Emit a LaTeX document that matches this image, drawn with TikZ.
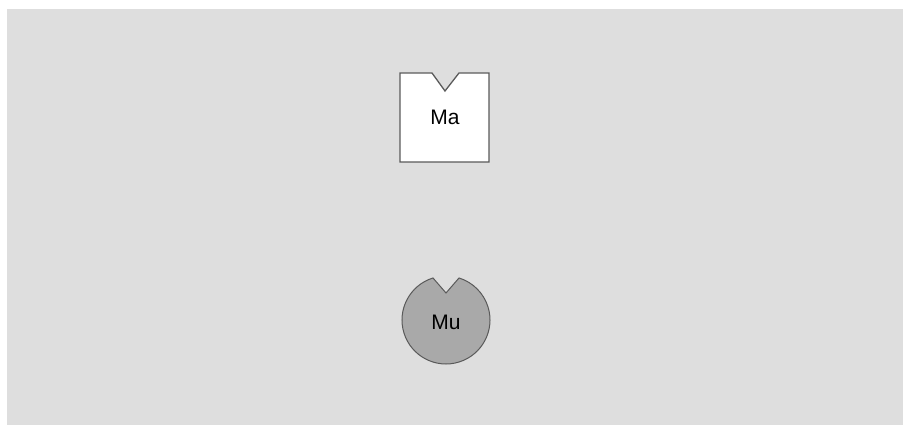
\documentclass[tikz,border=0pt]{standalone}
\usepackage{fontspec}
\setmainfont{Liberation Sans}
\usepackage{xcolor}
\usetikzlibrary{positioning}

\definecolor{pagegray}{HTML}{DEDEDE}
\definecolor{mugray}{HTML}{A9A9A9}
\definecolor{edgegray}{HTML}{5A5A5A}

\begin{document}
\begin{tikzpicture}[x=1pt, y=1pt,
    label text/.style={font=\fontsize{21}{25}\selectfont, inner sep=0pt},
    ma shape/.style={fill=white, draw=edgegray, line width=1.3pt, line join=miter},
    mu shape/.style={fill=mugray, draw=edgegray, line width=1pt}]
    \useasboundingbox (0,0) rectangle (903,425);
    \fill[pagegray] (7,0) rectangle (903,416);

    % notched square
    \draw[ma shape] (400,263) -- (489,263) -- (489,352) -- (459,352)
        -- (445,334) -- (432,352) -- (400,352) -- cycle;
    \node[label text] (ma) at (445,308) {Ma};

    % notched circle
    \coordinate (muc) at (446,105);
    \draw[mu shape] (muc) ++(107.2:44) arc[start angle=107.2, end angle=432.8, radius=44]
        -- (446,132) -- cycle;
    \node[label text] (mu) at (446,103) {Mu};
\end{tikzpicture}
\end{document}
